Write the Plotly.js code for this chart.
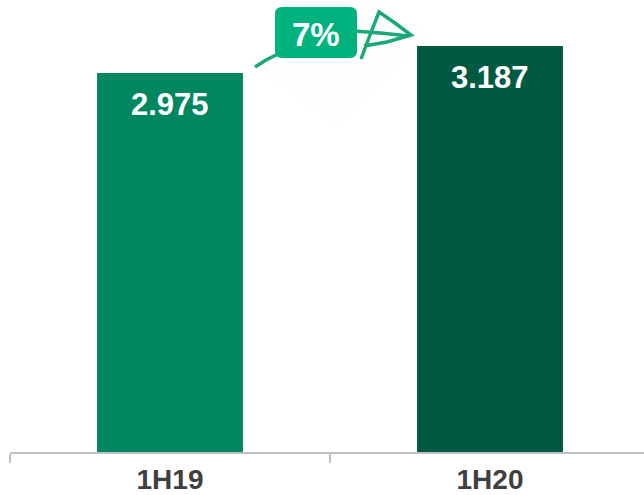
<!DOCTYPE html>
<html>
<head>
<meta charset="utf-8">
<script src="https://cdn.plot.ly/plotly-3.0.1.min.js"></script>
<style>html,body{margin:0;padding:0;background:#fff;}#chart{width:644px;height:495px;}</style>
</head>
<body>
<div id="chart"></div>
<script>
var categories = ["1H19", "1H20"];
var values = [2.975, 3.187];
var valueLabels = ["2.975", "3.187"];
var barColors = ["#00875F", "#005A41"];
var growthLabel = "7%";

var W = 644, H = 495, ML = 10, MR = 0, MT = 0, MB = 43;
var PW = W - ML - MR, PH = H - MT - MB;
function px(x) { return (x - ML) / PW; }
function py(y) { return (H - MB - y) / PH; }
function path(pts) {
  return pts.map(function (p, i) { return (i ? "L" : "M") + px(p[0]) + "," + py(p[1]); }).join(" ");
}
function roundRect(x0, y0, x1, y1, r) {
  var s = "M" + px(x0 + r) + "," + py(y0);
  s += " L" + px(x1 - r) + "," + py(y0);
  s += " Q" + px(x1) + "," + py(y0) + " " + px(x1) + "," + py(y0 + r);
  s += " L" + px(x1) + "," + py(y1 - r);
  s += " Q" + px(x1) + "," + py(y1) + " " + px(x1 - r) + "," + py(y1);
  s += " L" + px(x0 + r) + "," + py(y1);
  s += " Q" + px(x0) + "," + py(y1) + " " + px(x0) + "," + py(y1 - r);
  s += " L" + px(x0) + "," + py(y0 + r);
  s += " Q" + px(x0) + "," + py(y0) + " " + px(x0 + r) + "," + py(y0) + " Z";
  return s;
}

var arrowColor = "#1AA876";
var shapes = [
  {type: "path", xref: "paper", yref: "paper", path: path([[373, 0], [428, 34], [340, 127], [250, 64]]) + " Z",
   fillcolor: "rgba(0,0,0,0.008)", line: {width: 0}, layer: "below"},
  {type: "path", xref: "paper", yref: "paper", path: path([[255, 67], [266, 60], [280, 53]]),
   line: {color: arrowColor, width: 3.5}},
  {type: "path", xref: "paper", yref: "paper", path: path([[354, 31], [380, 33], [409, 36]]),
   line: {color: arrowColor, width: 3.5}},
  {type: "path", xref: "paper", yref: "paper", path: path([[361, 59], [370, 35], [379, 12], [395, 23], [411, 35], [387, 42], [364, 46]]),
   line: {color: arrowColor, width: 3.5}},
  {type: "path", xref: "paper", yref: "paper", path: roundRect(275, 7, 357, 58, 7),
   fillcolor: "#00B27E", line: {width: 0}}
];

var annotations = categories.map(function (c, i) {
  return {x: c, y: values[i], xref: "x", yref: "y", text: valueLabels[i], showarrow: false,
          yanchor: "middle", yshift: -32,
          font: {family: "Liberation Sans, Arial, sans-serif", size: 31, color: "#ffffff", weight: "bold"}};
});
annotations.push({xref: "paper", yref: "paper", x: px(316), y: py(34), text: growthLabel, showarrow: false,
  xanchor: "center", yanchor: "middle",
  font: {family: "Liberation Sans, Arial, sans-serif", size: 33, color: "#ffffff", weight: "bold"}});

var trace = {
  type: "bar", x: categories, y: values, width: 0.456,
  marker: {color: barColors, line: {width: 0}},
  hoverinfo: "skip"
};

var layout = {
  width: W, height: H,
  margin: {l: ML, r: MR, t: MT, b: MB, pad: 0},
  paper_bgcolor: "#ffffff", plot_bgcolor: "#ffffff",
  showlegend: false,
  xaxis: {
    type: "category", range: [-0.5, -0.5 + PW / 320],
    showline: true, linecolor: "#BFBFBF", linewidth: 1.5,
    ticks: "outside", tickson: "boundaries", ticklen: 9, tickcolor: "#BFBFBF", tickwidth: 1.2,
    ticklabelstandoff: 2,
    showgrid: false, zeroline: false,
    tickfont: {family: "Liberation Sans, Arial, sans-serif", size: 28, color: "#404040", weight: "bold"}
  },
  yaxis: {range: [0, PH / 127.4], visible: false, showgrid: false, zeroline: false, fixedrange: true},
  shapes: shapes,
  annotations: annotations
};

Plotly.newPlot("chart", [trace], layout, {displayModeBar: false, staticPlot: true});
</script>
</body>
</html>
